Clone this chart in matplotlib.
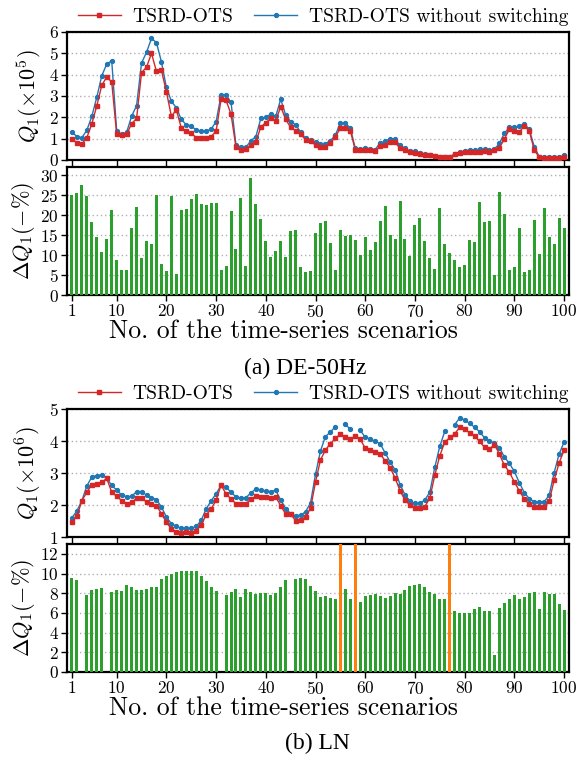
import numpy as np
import matplotlib
matplotlib.use("Agg")
import matplotlib.pyplot as plt

# ---------------------------------------------------------------------------
# data (index 1..100)
# ---------------------------------------------------------------------------
scen = np.arange(1, 101)

# (a) DE-50Hz, Q1 in 1e5
de_ots = [1.0, 0.8, 0.75, 1.05, 1.7, 2.55, 3.5, 3.9, 3.65, 1.2,
          1.15, 1.2, 1.7, 1.95, 4.1, 4.35, 5.0, 4.15, 4.2, 3.2,
          2.05, 2.35, 1.5, 1.35, 1.25, 1.05, 1.05, 1.05, 1.1, 1.35,
          2.85, 2.8, 2.15, 0.6, 0.45, 0.5, 0.7, 0.85, 1.55, 1.75,
          1.95, 1.85, 2.5, 1.9, 1.53, 1.38, 1.22, 0.95, 0.88, 0.7,
          0.63, 0.63, 0.78, 1.1, 1.48, 1.48, 1.38, 0.47, 0.47, 0.47,
          0.47, 0.42, 0.65, 0.69, 0.86, 0.83, 0.55, 0.47, 0.37, 0.34,
          0.28, 0.23, 0.22, 0.19, 0.12, 0.12, 0.12, 0.27, 0.34, 0.39,
          0.39, 0.39, 0.39, 0.44, 0.39, 0.47, 0.58, 0.98, 1.44, 1.38,
          1.31, 1.59, 1.38, 0.47, 0.13, 0.11, 0.11, 0.11, 0.11, 0.16]
de_noswitch = [1.3, 1.1, 1.05, 1.4, 2.05, 2.95, 3.95, 4.5, 4.65, 1.35,
               1.2, 1.3, 2.05, 2.55, 4.55, 5.05, 5.7, 5.5, 4.6, 3.4,
               2.75, 2.45, 1.9, 1.65, 1.6, 1.4, 1.35, 1.35, 1.45, 1.8,
               3.05, 3.05, 2.7, 0.7, 0.6, 0.6, 0.9, 1.1, 1.95, 2.0,
               2.15, 2.05, 2.85, 2.1, 1.8, 1.65, 1.31, 1.01, 0.95, 0.83,
               0.77, 0.77, 0.9, 1.17, 1.74, 1.72, 1.5, 0.55, 0.52, 0.55,
               0.53, 0.49, 0.8, 0.88, 1.0, 0.97, 0.68, 0.55, 0.41, 0.41,
               0.35, 0.27, 0.24, 0.21, 0.16, 0.14, 0.14, 0.29, 0.37, 0.42,
               0.47, 0.47, 0.5, 0.5, 0.47, 0.5, 0.78, 1.25, 1.53, 1.53,
               1.59, 1.69, 1.44, 0.63, 0.16, 0.13, 0.13, 0.13, 0.13, 0.22]
de_delta = [24.9, 25.6, 27.4, 24.7, 18.2, 14.4, 10.7, 13.9, 21.2, 8.7,
            6.2, 6.2, 16.7, 21.9, 9.2, 13.4, 12.7, 24.9, 7.7, 5.9,
            24.7, 5.2, 21.2, 21.4, 23.9, 25.2, 22.7, 22.4, 22.9, 22.9,
            6.2, 7.2, 20.9, 11.4, 24.2, 7.2, 29.2, 22.7, 18.9, 13.4,
            9.4, 10.9, 13.4, 9.4, 15.9, 16.2, 6.9, 5.7, 5.9, 15.4,
            17.9, 18.4, 12.9, 6.2, 16.2, 14.7, 14.9, 13.7, 9.9, 14.4,
            11.2, 13.2, 18.4, 22.2, 14.9, 13.9, 23.4, 13.9, 9.7, 17.4,
            19.2, 13.4, 9.2, 6.4, 21.7, 12.7, 10.4, 8.7, 6.9, 7.4,
            13.7, 13.2, 23.2, 18.2, 18.4, 4.9, 25.7, 20.2, 6.2, 6.9,
            16.7, 5.7, 6.2, 18.7, 10.2, 21.7, 14.4, 12.7, 19.2, 16.7]

# (b) LN, Q1 in 1e6 (nan = no solution without switching)
nan = np.nan
ln_ots = [1.46, 1.65, 2.14, 2.4, 2.64, 2.67, 2.71, 2.83, 2.4, 2.27,
          2.14, 2.04, 2.08, 2.21, 2.21, 2.1, 2.02, 1.98, 1.73, 1.46,
          1.25, 1.17, 1.12, 1.15, 1.12, 1.19, 1.38, 1.69, 1.88, 2.15,
          2.62, 2.35, 2.19, 2.04, 2.02, 2.04, 2.19, 2.27, 2.25, 2.25,
          2.22, 2.26, 1.97, 1.72, 1.73, 1.5, 1.53, 1.63, 1.9, 2.72,
          3.41, 3.72, 3.92, 4.08, 4.21, 4.12, 4.05, 4.16, 4.05, 3.78,
          3.73, 3.67, 3.6, 3.38, 3.17, 2.85, 2.45, 2.15, 2.0, 1.9,
          1.9, 1.95, 2.22, 2.93, 3.54, 3.96, 4.11, 4.22, 4.43, 4.36,
          4.26, 4.15, 3.99, 3.8, 3.75, 3.89, 3.59, 3.24, 3.03, 2.72,
          2.45, 2.18, 2.03, 1.93, 1.93, 1.93, 2.11, 2.77, 3.31, 3.71]
ln_noswitch = [1.6, 1.82, 2.14, 2.6, 2.88, 2.92, 2.95, 2.83, 2.62, 2.46,
               2.32, 2.26, 2.27, 2.42, 2.42, 2.31, 2.23, 2.17, 1.94, 1.62,
               1.42, 1.33, 1.27, 1.27, 1.27, 1.33, 1.52, 1.88, 2.13, 2.35,
               2.62, 2.56, 2.4, 2.25, 2.21, 2.23, 2.38, 2.5, 2.46, 2.44,
               2.42, 2.46, 2.15, 1.89, 1.73, 1.66, 1.68, 1.79, 2.07, 2.96,
               3.69, 4.14, 4.28, 4.45, nan, 4.53, 4.36, nan, 4.34, 4.11,
               4.07, 3.99, 3.92, 3.63, 3.35, 3.1, 2.64, 2.32, 2.12, 2.05,
               2.05, 2.16, 2.4, 3.18, 3.83, 4.3, nan, 4.51, 4.72, 4.66,
               4.55, 4.43, 4.29, 4.1, 3.99, 3.94, 3.79, 3.5, 3.3, 3.05,
               2.7, 2.39, 2.2, 2.1, 2.09, 2.1, 2.3, 3.0, 3.59, 3.96]
ln_delta = [9.56, 9.36, 0, 7.84, 8.34, 8.45, 8.55, 0, 8.14, 8.34,
            8.24, 8.85, 8.65, 8.34, 8.34, 8.45, 8.65, 8.65, 9.46, 9.76,
            9.97, 10.17, 10.27, 10.27, 10.27, 10.27, 9.76, 9.26, 8.65, 8.24,
            0, 7.84, 8.14, 8.45, 7.64, 8.45, 8.14, 7.94, 8.04, 8.04,
            7.84, 8.04, 8.65, 9.36, 0, 9.46, 9.56, 9.46, 8.75, 8.24,
            7.64, 7.74, 7.53, 7.43, nan, 8.45, 7.43, nan, 7.13, 7.74,
            7.84, 7.94, 7.74, 7.53, 7.74, 8.04, 7.94, 8.34, 8.75, 8.85,
            8.95, 8.65, 8.14, 7.94, 7.43, 7.43, nan, 6.22, 6.01, 6.01,
            6.01, 6.42, 6.62, 6.22, 6.22, 1.76, 6.5, 7.0, 7.4, 7.8,
            7.4, 7.6, 8.0, 8.1, 6.4, 8.1, 7.9, 7.9, 6.9, 6.3]
ln_fail = [55, 58, 77]        # scenarios infeasible without switching

xticks = [1, 10, 20, 30, 40, 50, 60, 70, 80, 90, 100]

# ---------------------------------------------------------------------------
plt.rcParams.update({
    "font.family": "cmr10",
    "mathtext.fontset": "cm",
    "axes.formatter.use_mathtext": True,
    "axes.unicode_minus": False,
})

RED, BLUE, GREEN, ORANGE = "#d62728", "#1f77b4", "#2ca02c", "#ff7f0e"
W, H = 587, 758
fig = plt.figure(figsize=(W / 100, H / 100), dpi=100)


def box(top, bottom, left=67, right=569):
    return [left / W, 1 - bottom / H, (right - left) / W, (bottom - top) / H]


def style(ax, labels):
    for s in ax.spines.values():
        s.set_linewidth(1.6)
    ax.set_xlim(0, 101)
    ax.set_xticks(xticks)
    ax.tick_params(direction="out", length=4, width=1, labelsize=12.5, pad=2)
    if not labels:
        ax.set_xticklabels([])
    ax.yaxis.grid(True, linestyle=(0, (1, 2)), color="#b0b0b0", lw=1)
    ax.set_axisbelow(True)


def line_panel(ax, ots, nosw, ylim, yticks, ylabel):
    hb, = ax.plot(scen, nosw, "-o", color=BLUE, lw=1, ms=2.8, zorder=3)
    hr, = ax.plot(scen, ots, "-s", color=RED, lw=1, ms=3, zorder=4)
    ax.set_ylim(*ylim)
    ax.set_yticks(yticks)
    ax.set_ylabel(ylabel, fontsize=16, labelpad=3)
    style(ax, False)
    ax.legend([hr, hb], ["TSRD-OTS", "TSRD-OTS without switching"],
              loc="lower center", bbox_to_anchor=(0.51, 0.99), ncol=2,
              frameon=False, fontsize=14, handlelength=2.2,
              columnspacing=1.1, handletextpad=0.6, borderaxespad=0.0)


def bar_panel(ax, delta, ylim, yticks, fail=()):
    ax.bar(scen, delta, width=0.6, color=GREEN, zorder=3)
    if fail:
        ax.bar(fail, [ylim[1]] * len(fail), width=0.6, color=ORANGE, zorder=3)
    ax.set_ylim(*ylim)
    ax.set_yticks(yticks)
    ax.set_ylabel(r"$\Delta Q_1(-\%)$", fontsize=16, labelpad=2)
    ax.set_xlabel("No. of the time-series scenarios", fontsize=18.5)
    ax.xaxis.set_label_coords(0.432, -0.19)
    style(ax, True)


ax1 = fig.add_axes(box(32, 160))
line_panel(ax1, de_ots, de_noswitch, (0, 6), range(0, 7),
           r"$Q_1(\times10^5)$")
ax2 = fig.add_axes(box(167, 295))
bar_panel(ax2, de_delta, (0, 32), range(0, 31, 5))

ax3 = fig.add_axes(box(409, 537))
line_panel(ax3, ln_ots, ln_noswitch, (1, 5), range(1, 6),
           r"$Q_1(\times10^6)$")
ax4 = fig.add_axes(box(544, 672))
bar_panel(ax4, ln_delta, (0, 13), range(0, 13, 2), ln_fail)

fig.text(0.52, 1 - 368 / H, "(a) DE-50Hz", ha="center", va="center",
         family="Liberation Serif", fontsize=17)
fig.text(0.541, 1 - 743 / H, "(b) LN", ha="center", va="center",
         family="Liberation Serif", fontsize=17)

fig.savefig("out.png", dpi=100)
